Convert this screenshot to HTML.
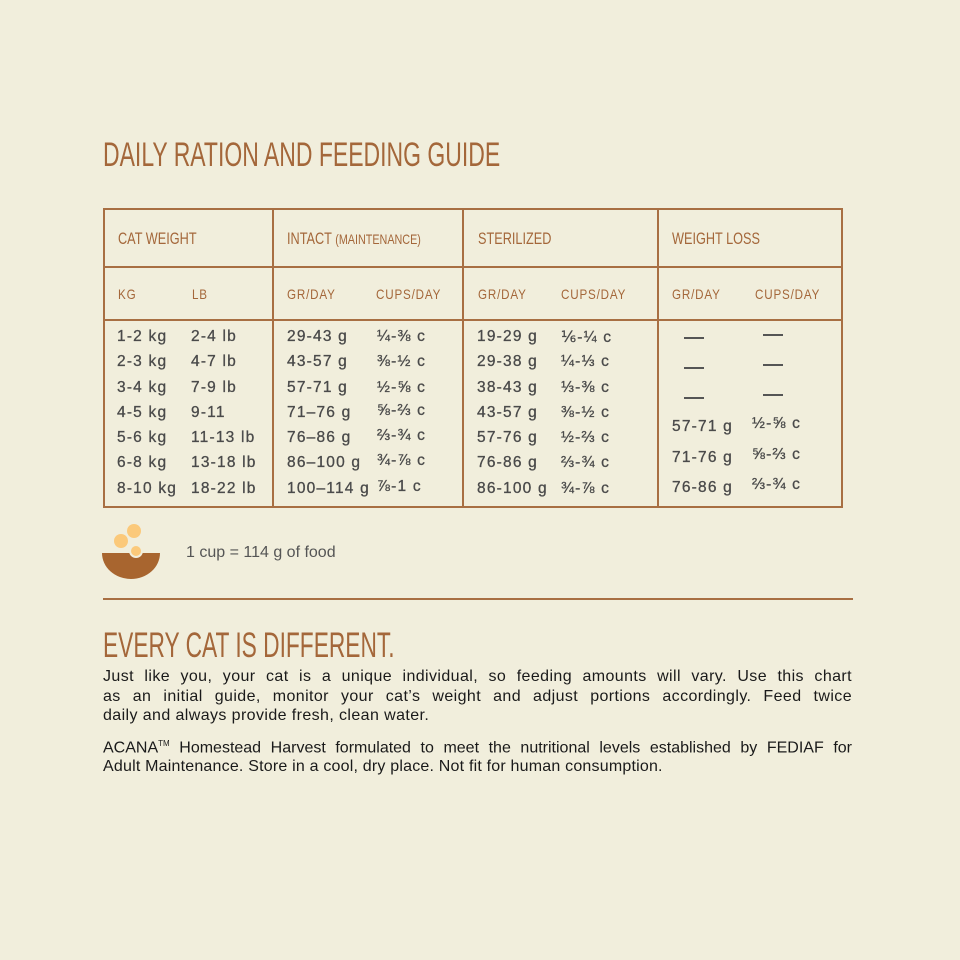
<!DOCTYPE html>
<html><head><style>
body{margin:0;width:960px;height:960px;background:#f1eedc;position:relative;overflow:hidden;font-family:"Liberation Sans",sans-serif}
.a{position:absolute;white-space:nowrap}
.t{font-family:"Liberation Sans",sans-serif;color:#a4673a}
.h{font-size:16.5px;color:#a4673a;transform:scaleX(0.77);transform-origin:left}
.s{font-size:14px;color:#a4673a;letter-spacing:1px;transform:scaleX(0.83);transform-origin:left}
.d{font-size:15.5px;color:#4a4a4a;letter-spacing:1.2px;-webkit-text-stroke:0.3px #4a4a4a}
.d span{position:absolute}
.ln{position:absolute;background:#a86f43}
.j{text-align:justify;text-align-last:justify;white-space:nowrap}
.l{text-align:left;white-space:nowrap}
</style></head><body>
<div class="a t" style="left:103px;top:136px;font-size:34px;transform:scaleX(0.676);transform-origin:left">DAILY RATION AND FEEDING GUIDE</div>
<div style="position:absolute;left:103px;top:208px;width:736px;height:296px;border:2px solid #a86f43"></div>
<div class="ln" style="left:103px;top:266px;width:738px;height:2px"></div>
<div class="ln" style="left:103px;top:319px;width:738px;height:2px"></div>
<div class="ln" style="left:272px;top:208px;width:2px;height:298px"></div>
<div class="ln" style="left:462px;top:208px;width:2px;height:298px"></div>
<div class="ln" style="left:657px;top:208px;width:2px;height:298px"></div>
<div class="a h" style="left:118px;top:230px">CAT WEIGHT</div>
<div class="a h" style="left:287px;top:230px">INTACT <span style="font-size:14px">(MAINTENANCE)</span></div>
<div class="a h" style="left:478px;top:230px">STERILIZED</div>
<div class="a h" style="left:672px;top:230px">WEIGHT LOSS</div>
<div class="a s" style="left:118px;top:286px">KG</div>
<div class="a s" style="left:192px;top:286px">LB</div>
<div class="a s" style="left:287px;top:286px">GR/DAY</div>
<div class="a s" style="left:376px;top:286px">CUPS/DAY</div>
<div class="a s" style="left:478px;top:286px">GR/DAY</div>
<div class="a s" style="left:561px;top:286px">CUPS/DAY</div>
<div class="a s" style="left:672px;top:286px">GR/DAY</div>
<div class="a s" style="left:755px;top:286px">CUPS/DAY</div>
<div class="a d" style="left:0;top:328px;width:960px">
<span style="left:117px;top:0">1-2 kg</span><span style="left:191px;top:0">2-4 lb</span><span style="left:287px;top:0">29-43 g</span><span style="left:377px;top:0">¼-⅜ c</span><span style="left:477px;top:0">19-29 g</span><span style="left:561px;top:0">⅙-¼ c</span>
<span style="left:117px;top:25px">2-3 kg</span><span style="left:191px;top:25px">4-7 lb</span><span style="left:287px;top:25px">43-57 g</span><span style="left:377px;top:25px">⅜-½ c</span><span style="left:477px;top:25px">29-38 g</span><span style="left:561px;top:25px">¼-⅓ c</span>
<span style="left:117px;top:51px">3-4 kg</span><span style="left:191px;top:51px">7-9 lb</span><span style="left:287px;top:51px">57-71 g</span><span style="left:377px;top:51px">½-⅝ c</span><span style="left:477px;top:51px">38-43 g</span><span style="left:561px;top:51px">⅓-⅜ c</span>
<span style="left:117px;top:76px">4-5 kg</span><span style="left:191px;top:76px">9-11</span><span style="left:287px;top:76px">71–76 g</span><span style="left:377px;top:74px">⅝-⅔ c</span><span style="left:477px;top:76px">43-57 g</span><span style="left:561px;top:76px">⅜-½ c</span>
<span style="left:117px;top:101px">5-6 kg</span><span style="left:191px;top:101px">11-13 lb</span><span style="left:287px;top:101px">76–86 g</span><span style="left:377px;top:99px">⅔-¾ c</span><span style="left:477px;top:101px">57-76 g</span><span style="left:561px;top:101px">½-⅔ c</span>
<span style="left:117px;top:126px">6-8 kg</span><span style="left:191px;top:126px">13-18 lb</span><span style="left:287px;top:126px">86–100 g</span><span style="left:377px;top:124px">¾-⅞ c</span><span style="left:477px;top:126px">76-86 g</span><span style="left:561px;top:126px">⅔-¾ c</span>
<span style="left:117px;top:152px">8-10 kg</span><span style="left:191px;top:152px">18-22 lb</span><span style="left:287px;top:152px">100–114 g</span><span style="left:377px;top:150px">⅞-1 c</span><span style="left:477px;top:152px">86-100 g</span><span style="left:561px;top:152px">¾-⅞ c</span>
<span style="left:672px;top:90px">57-71 g</span><span style="left:752px;top:87px">½-⅝ c</span>
<span style="left:672px;top:121px">71-76 g</span><span style="left:752px;top:118px">⅝-⅔ c</span>
<span style="left:672px;top:151px">76-86 g</span><span style="left:752px;top:148px">⅔-¾ c</span>
</div>
<div class="ln" style="left:684px;top:337px;width:20px;height:2px;background:#555"></div>
<div class="ln" style="left:763px;top:334px;width:20px;height:2px;background:#555"></div>
<div class="ln" style="left:684px;top:367px;width:20px;height:2px;background:#555"></div>
<div class="ln" style="left:763px;top:364px;width:20px;height:2px;background:#555"></div>
<div class="ln" style="left:684px;top:397px;width:20px;height:2px;background:#555"></div>
<div class="ln" style="left:763px;top:394px;width:20px;height:2px;background:#555"></div>
<svg class="a" style="left:100px;top:520px" width="64" height="62">
<circle cx="34" cy="11" r="7" fill="#fbc97a"/><circle cx="21" cy="21" r="7" fill="#fbc97a"/>
<path d="M2 33 H60 A29 26 0 0 1 2 33 Z" fill="#a8652f"/>
<circle cx="36" cy="31" r="6" fill="#fbc97a" stroke="#f1eedc" stroke-width="2"/>
</svg>
<div class="a" style="left:186px;top:544px;font-size:16px;color:#555">1 cup = 114 g of food</div>
<div class="ln" style="left:103px;top:598px;width:750px;height:2px"></div>
<div class="a t" style="left:103px;top:626px;font-size:35px;transform:scaleX(0.65);transform-origin:left">EVERY CAT IS DIFFERENT.</div>
<div class="a" style="left:103px;top:667px;width:749px;white-space:normal;font-size:16px;line-height:19.5px;color:#1a1a1a">
<div class="j" style="letter-spacing:0.4px">Just like you, your cat is a unique individual, so feeding amounts will vary. Use this chart</div>
<div class="j" style="letter-spacing:0.4px">as an initial guide, monitor your cat’s weight and adjust portions accordingly. Feed twice</div>
<div class="l" style="letter-spacing:0.4px">daily and always provide fresh, clean water.</div>
<div class="j" style="margin-top:8px;letter-spacing:0px">ACANA<sup style="font-size:8px">TM</sup> Homestead Harvest formulated to meet the nutritional levels established by FEDIAF for</div>
<div class="l" style="letter-spacing:0.2px">Adult Maintenance. Store in a cool, dry place. Not fit for human consumption.</div>
</div>
</body></html>
